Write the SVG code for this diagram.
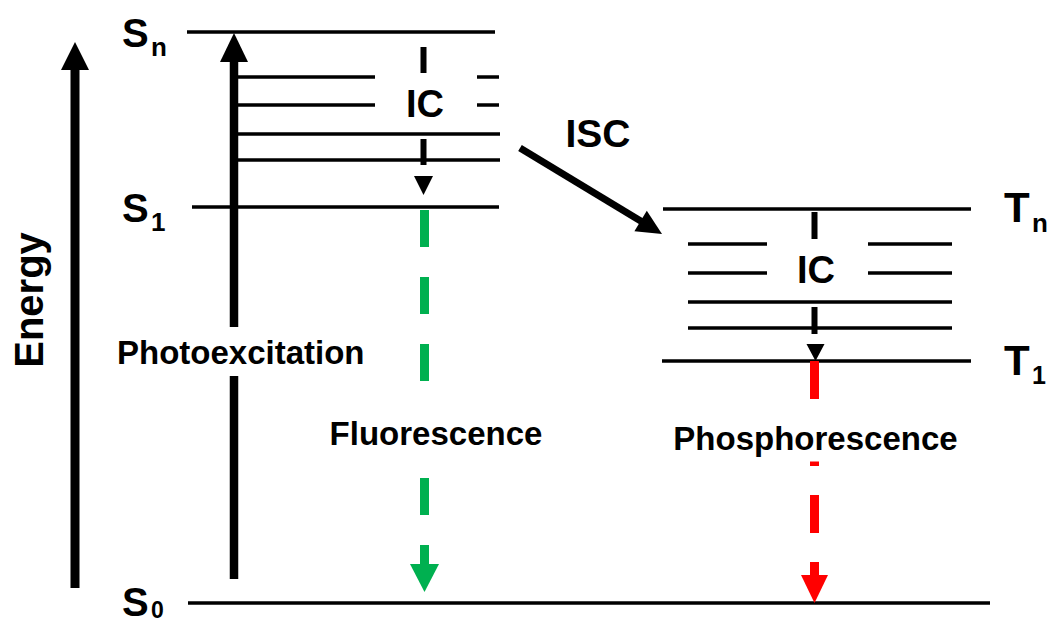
<svg xmlns="http://www.w3.org/2000/svg" width="1048" height="624" viewBox="0 0 1048 624">
<style>
.lvl{stroke:#000;stroke-width:3.5;fill:none}
.t{font-family:"Liberation Sans",Arial,sans-serif;font-weight:bold;fill:#000}
.big{font-size:38px}
.lev{font-size:40px}
.sub{font-size:26px}
.lab{font-size:33px}
.bg{fill:#fff}
</style>
<rect width="1048" height="624" fill="#fff"/>
<g id="S_n">
<line class="lvl" x1="187" y1="32" x2="495" y2="32"/>
<text class="t lev" x="122" y="47">S</text><text class="t sub" x="151" y="56">n</text>
</g>
<g id="S_vib">
<line class="lvl" x1="238" y1="77" x2="499" y2="77"/>
<line class="lvl" x1="238" y1="105" x2="499" y2="105"/>
<line class="lvl" x1="238" y1="134" x2="500" y2="134"/>
<line class="lvl" x1="238" y1="160" x2="500" y2="160"/>
</g>
<g id="S_1">
<line class="lvl" x1="192" y1="207" x2="499" y2="207"/>
<text class="t lev" x="122" y="222">S</text><text class="t sub" x="151" y="231">1</text>
</g>
<g id="S_0">
<line class="lvl" x1="188" y1="603" x2="990" y2="603"/>
<text class="t lev" x="122" y="616">S</text><text class="t" font-size="23" x="151" y="618">0</text>
</g>
<g id="T_n">
<line class="lvl" x1="663" y1="209" x2="971" y2="209"/>
<text class="t" font-size="42" x="1004" y="222">T</text><text class="t sub" x="1032" y="232">n</text>
</g>
<g id="T_vib">
<line class="lvl" x1="688" y1="244" x2="952" y2="244"/>
<line class="lvl" x1="688" y1="273" x2="952" y2="273"/>
<line class="lvl" x1="688" y1="302" x2="952" y2="302"/>
<line class="lvl" x1="688" y1="328" x2="952" y2="328"/>
</g>
<g id="T_1">
<line class="lvl" x1="662" y1="361" x2="971" y2="361"/>
<text class="t" font-size="42" x="1004" y="375">T</text><text class="t" font-size="25" x="1032" y="384">1</text>
</g>
<g id="connectors">
<g id="energy">
<line x1="75" y1="588" x2="75" y2="68" stroke="#000" stroke-width="9"/>
<polygon points="61,70 89,70 75,42" fill="#000"/>
<text class="t" font-size="40" text-anchor="middle" transform="translate(43,300) rotate(-90)">Energy</text>
</g>
<g id="photoexcitation">
<line x1="234" y1="579" x2="234" y2="60" stroke="#000" stroke-width="8.5"/>
<polygon points="220,62 248,62 234,33" fill="#000"/>
<rect class="bg" x="112" y="327" width="262" height="49"/>
<text class="t lab" x="117" y="364">Photoexcitation</text>
</g>
<g id="ic_s">
<line x1="423.5" y1="47" x2="423.5" y2="166" stroke="#000" stroke-width="6" stroke-dasharray="26 20"/>
<rect class="bg" x="375" y="73" width="102" height="53"/>
<text class="t big" x="425" y="117" text-anchor="middle">IC</text>
<polygon points="414,176 433,176 423.5,195" fill="#000"/>
</g>
<g id="isc">
<line x1="520" y1="148" x2="644" y2="223" stroke="#000" stroke-width="7"/>
<polygon points="662,234 634.4,231.3 646.8,210.7" fill="#000"/>
<text class="t" font-size="39" x="598" y="147" text-anchor="middle">ISC</text>
</g>
<g id="ic_t">
<line x1="814.5" y1="212" x2="814.5" y2="334" stroke="#000" stroke-width="6" stroke-dasharray="27 20.5"/>
<rect class="bg" x="767" y="241" width="101" height="53"/>
<text class="t big" x="816" y="283" text-anchor="middle">IC</text>
<polygon points="806.5,344 824.5,344 815.5,361" fill="#000"/>
</g>
<g id="fluorescence">
<line x1="424.5" y1="210" x2="424.5" y2="566" stroke="#00B050" stroke-width="9" stroke-dasharray="37 30"/>
<rect class="bg" x="325" y="405" width="222" height="47"/>
<text class="t lab" x="436" y="445" text-anchor="middle">Fluorescence</text>
<polygon points="410,564 439,564 424.5,592" fill="#00B050"/>
</g>
<g id="phosphorescence">
<line x1="814.5" y1="361" x2="814.5" y2="577" stroke="#FF0000" stroke-width="9" stroke-dasharray="38 29"/>
<rect class="bg" x="668" y="420" width="295" height="41.5"/>
<text class="t lab" x="815.5" y="450" text-anchor="middle">Phosphorescence</text>
<polygon points="801,575 828,575 814.5,603" fill="#FF0000"/>
</g>
</g>
</svg>
